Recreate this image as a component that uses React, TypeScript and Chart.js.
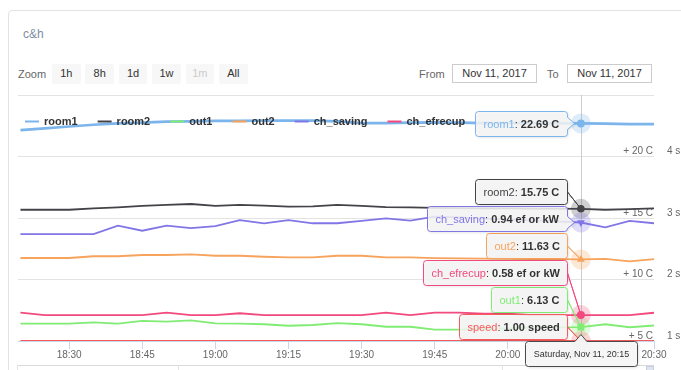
import React, { useEffect, useRef } from 'react';
import { Chart, registerables } from 'chart.js';

Chart.register(...registerables);

const FONT = '"Liberation Sans", Arial, Helvetica, sans-serif';

// ---- data ----
const TIMES = ['18:20','18:25','18:30','18:35','18:40','18:45','18:50','18:55','19:00','19:05','19:10','19:15','19:20','19:25','19:30','19:35','19:40','19:45','19:50','19:55','20:00','20:05','20:10','20:15','20:20','20:25','20:30'];
const ROOM1 = [22.15,22.29,22.44,22.58,22.70,22.76,22.83,22.85,22.89,22.89,22.91,22.91,22.91,22.85,22.72,22.72,22.75,22.78,22.75,22.72,22.72,22.71,22.70,22.69,22.67,22.64,22.64];
const ROOM2 = [15.67,15.67,15.67,15.79,15.87,15.98,16.06,16.14,15.98,16.06,16.00,15.92,15.95,16.06,15.98,15.89,15.87,15.82,15.80,15.79,15.78,15.77,15.76,15.75,15.67,15.72,15.79];
const OUT1 = [6.41,6.41,6.41,6.52,6.41,6.63,6.57,6.68,6.44,6.41,6.36,6.24,6.30,6.46,6.36,6.16,6.16,5.92,5.92,5.98,6.03,6.08,6.11,6.13,6.36,6.12,6.26];
const OUT2 = [11.75,11.75,11.75,11.89,11.89,11.99,11.99,12.05,11.93,11.93,11.85,11.80,11.80,11.93,11.93,11.80,11.80,11.74,11.72,11.70,11.68,11.66,11.65,11.63,11.68,11.48,11.65];
const CH_SAVING = [0.895,0.895,0.895,0.895,0.928,0.908,0.928,0.918,0.926,0.949,0.937,0.949,0.937,0.937,0.946,0.956,0.947,0.963,0.960,0.955,0.952,0.948,0.944,0.940,0.921,0.946,0.937];
const CH_EFRECUP = [0.589,0.580,0.580,0.580,0.580,0.580,0.589,0.580,0.580,0.587,0.580,0.580,0.580,0.580,0.580,0.589,0.580,0.589,0.589,0.585,0.585,0.580,0.580,0.580,0.580,0.580,0.589];
const SPEED = [1,1,1,1,1,1,1,1,1,1,1,1,1,1,1,1,1,1,1,1,1,1,1,1,1,1,1];

const X_MIN = '18:19:30';
const X_MAX = '20:30';
const X_STEP_MIN = 15;
const TEMP_TICKS = { min: 5, max: 25, step: 5 };
const SPEED_TICKS = { min: 1, max: 5, step: 1 };
const EF_RANGE = { min: 0.479, max: 1.436 };

const HOVER_TIME = '20:15';
const HOVER_DATE = 'Saturday, Nov 11';
const ZOOM_BUTTONS = ['1h', '8h', '1d', '1w', '1m', 'All'];
const DISABLED_BUTTON = '1m';
const FROM_DATE = 'Nov 11, 2017';
const TO_DATE = 'Nov 11, 2017';
const TITLE = 'c&h';

const SERIES = [
  { name: 'room1', values: ROOM1, color: '#7cb5ec', axis: 'yTemp', unit: 'C', marker: 'circle', rot: 0, r: 4, width: 2.7, legend: true },
  { name: 'room2', values: ROOM2, color: '#434348', axis: 'yTemp', unit: 'C', marker: 'circle', rot: 0, r: 3.8, width: 1.8, legend: true },
  { name: 'out1', values: OUT1, color: '#80ec74', axis: 'yTemp', unit: 'C', marker: 'rect', rot: 0, r: 5, width: 1.8, legend: true },
  { name: 'out2', values: OUT2, color: '#f7a35c', axis: 'yTemp', unit: 'C', marker: 'triangle', rot: 0, r: 4.5, width: 1.8, legend: true },
  { name: 'ch_saving', values: CH_SAVING, color: '#8176e6', axis: 'yEf', unit: 'ef or kW', marker: 'triangle', rot: 180, r: 4.5, width: 1.8, legend: true },
  { name: 'ch_efrecup', values: CH_EFRECUP, color: '#f24a7e', axis: 'yEf', unit: 'ef or kW', marker: 'circle', rot: 0, r: 4, width: 1.8, legend: true },
  { name: 'speed', values: SPEED, color: '#f45b5b', axis: 'ySpeed', unit: 'speed', marker: 'rectRot', rot: 0, r: 4.5, width: 1.8, legend: false },
];

const toMin = (s: string) => {
  const p = s.split(':').map(Number);
  return p[0] * 60 + p[1] + (p[2] || 0) / 60;
};
const fmtTime = (v: number) => {
  const h = Math.floor(v / 60);
  const m = Math.round(v - h * 60);
  return `${h}:${String(m).padStart(2, '0')}`;
};
const HOVER_INDEX = TIMES.indexOf(HOVER_TIME);

function rgba(hex: string, a: number) {
  const n = parseInt(hex.slice(1), 16);
  return `rgba(${(n >> 16) & 255},${(n >> 8) & 255},${n & 255},${a})`;
}

function calloutPath(ctx: CanvasRenderingContext2D, x: number, y: number, w: number, h: number, r: number, ax: number, ay: number, side: 'right' | 'top') {
  ctx.beginPath();
  ctx.moveTo(x + r, y);
  if (side === 'top') {
    ctx.lineTo(ax - 6, y);
    ctx.lineTo(ax, ay);
    ctx.lineTo(ax + 6, y);
  }
  ctx.lineTo(x + w - r, y);
  ctx.arcTo(x + w, y, x + w, y + r, r);
  if (side === 'right') {
    if (ay > y + 9 && ay < y + h - 9) {
      ctx.lineTo(x + w, ay - 6);
      ctx.lineTo(x + w + 7, ay);
      ctx.lineTo(x + w, ay + 6);
    } else {
      ctx.lineTo(x + w, y + h / 2);
      ctx.lineTo(ax, ay);
      ctx.lineTo(x + w, y + h / 2);
    }
  }
  ctx.lineTo(x + w, y + h - r);
  ctx.arcTo(x + w, y + h, x + w - r, y + h, r);
  ctx.lineTo(x + r, y + h);
  ctx.arcTo(x, y + h, x, y + h - r, r);
  ctx.lineTo(x, y + r);
  ctx.arcTo(x, y, x + r, y, r);
  ctx.closePath();
}

const overlayPlugin = {
  id: 'hcOverlay',
  beforeDatasetsDraw(chart: any) {
    const { ctx, chartArea } = chart;
    const p0 = chart.getDatasetMeta(0).data[HOVER_INDEX];
    ctx.save();
    ctx.strokeStyle = '#cccccc';
    ctx.lineWidth = 1;
    const cx = Math.round(p0.x) + 0.5;
    ctx.beginPath();
    ctx.moveTo(cx, chartArea.top);
    ctx.lineTo(cx, chartArea.bottom);
    ctx.stroke();
    SERIES.forEach((s, i) => {
      const pt = chart.getDatasetMeta(i).data[HOVER_INDEX];
      ctx.fillStyle = rgba(s.color, 0.25);
      ctx.beginPath();
      ctx.arc(pt.x, pt.y, 10, 0, Math.PI * 2);
      ctx.fill();
    });
    ctx.restore();
  },
  afterDatasetsDraw(chart: any) {
    // legend inside plot area
    const { ctx, chartArea } = chart;
    ctx.save();
    ctx.font = `bold 11px ${FONT}`;
    ctx.textBaseline = 'middle';
    ctx.textAlign = 'left';
    let x = chartArea.left + 7;
    const y = chartArea.top + 26.5;
    SERIES.filter((s) => s.legend).forEach((s) => {
      ctx.strokeStyle = s.color;
      ctx.lineWidth = 2;
      ctx.beginPath();
      ctx.moveTo(x, y);
      ctx.lineTo(x + 14, y);
      ctx.stroke();
      ctx.fillStyle = '#333333';
      ctx.fillText(s.name, x + 19, y + 0.5);
      x += 19 + ctx.measureText(s.name).width + 20;
    });
    ctx.restore();
  },
  afterDraw(chart: any) {
    const { ctx, chartArea } = chart;
    ctx.save();
    const boxes = SERIES.map((s, i) => {
      const pt = chart.getDatasetMeta(i).data[HOVER_INDEX];
      const valText = `${s.values[HOVER_INDEX].toFixed(2)} ${s.unit}`;
      ctx.font = `11px ${FONT}`;
      const w1 = ctx.measureText(s.name).width;
      const w2 = ctx.measureText(': ').width;
      ctx.font = `bold 11px ${FONT}`;
      const w3 = ctx.measureText(valText).width;
      return { s, pt, valText, w1, w2, w: Math.round(w1 + w2 + w3 + 16), h: 25, y: 0 };
    });
    const sorted = [...boxes].sort((a, b) => a.pt.y - b.pt.y);
    let limit = chartArea.bottom - 2;
    for (let k = sorted.length - 1; k >= 0; k--) {
      const b = sorted[k];
      const target = b.pt.y - b.h / 2;
      b.y = Math.min(target, limit - b.h);
      limit = b.y - 2;
    }
    boxes.forEach((b) => {
      const right = Math.round(b.pt.x - 14) + 0.5;
      const x = right - b.w;
      const y = Math.round(b.y) + 0.5;
      calloutPath(ctx, x, y, b.w, b.h, 3, b.pt.x, b.pt.y, 'right');
      ctx.shadowColor = 'rgba(0,0,0,0.15)';
      ctx.shadowOffsetX = 1;
      ctx.shadowOffsetY = 1;
      ctx.shadowBlur = 3;
      ctx.fillStyle = 'rgba(247,247,247,0.85)';
      ctx.fill();
      ctx.shadowColor = 'transparent';
      ctx.strokeStyle = b.s.color;
      ctx.lineWidth = 1;
      ctx.stroke();
      ctx.textBaseline = 'middle';
      ctx.textAlign = 'left';
      const ty = y + b.h / 2 + 0.5;
      ctx.font = `11px ${FONT}`;
      ctx.fillStyle = b.s.color;
      ctx.fillText(b.s.name, x + 8, ty);
      ctx.fillStyle = '#333333';
      ctx.fillText(': ', x + 8 + b.w1, ty);
      ctx.font = `bold 11px ${FONT}`;
      ctx.fillText(b.valText, x + 8 + b.w1 + b.w2, ty);
    });
    // header
    const p0 = chart.getDatasetMeta(0).data[HOVER_INDEX];
    const header = `${HOVER_DATE}, ${HOVER_TIME}`;
    ctx.font = `9px ${FONT}`;
    const hw = Math.round(ctx.measureText(header).width + 16);
    const hh = 25;
    const hx = Math.round(p0.x - hw / 2) + 0.5;
    const hy = Math.round(chartArea.bottom) + 0.5;
    calloutPath(ctx, hx, hy, hw, hh, 3, p0.x, hy - 7, 'top');
    ctx.shadowColor = 'rgba(0,0,0,0.15)';
    ctx.shadowOffsetX = 1;
    ctx.shadowOffsetY = 1;
    ctx.shadowBlur = 3;
    ctx.fillStyle = 'rgba(247,247,247,0.95)';
    ctx.fill();
    ctx.shadowColor = 'transparent';
    ctx.strokeStyle = '#4a4a4a';
    ctx.lineWidth = 1;
    ctx.stroke();
    ctx.fillStyle = '#333333';
    ctx.textAlign = 'center';
    ctx.textBaseline = 'middle';
    ctx.fillText(header, hx + hw / 2, hy + hh / 2 + 0.5);
    ctx.restore();
  },
};

export default function App() {
  const ref = useRef<HTMLCanvasElement>(null);

  useEffect(() => {
    if (!ref.current) return;
    const datasets = SERIES.map((s) => ({
      label: s.name,
      data: TIMES.map((t, i) => ({ x: toMin(t), y: s.values[i] })),
      yAxisID: s.axis,
      borderColor: s.color,
      backgroundColor: s.color,
      borderWidth: s.width,
      tension: 0,
      fill: false,
      pointStyle: s.marker,
      pointRotation: s.rot,
      pointRadius: (c: any) => (c.dataIndex === HOVER_INDEX ? s.r : 0),
      pointBorderWidth: 0,
      pointBackgroundColor: s.color,
    }));
    const tickFont = { family: FONT, size: 10 };
    const chart = new Chart(ref.current, {
      type: 'line',
      data: { datasets } as any,
      options: {
        animation: false,
        responsive: false,
        maintainAspectRatio: false,
        events: [],
        layout: { padding: { left: 18, top: 95, right: 0, bottom: 7 } },
        plugins: { legend: { display: false }, tooltip: { enabled: false } },
        scales: {
          x: {
            type: 'linear',
            min: toMin(X_MIN),
            max: toMin(X_MAX),
            ticks: {
              stepSize: X_STEP_MIN,
              includeBounds: false,
              autoSkip: false,
              maxRotation: 0,
              padding: 0,
              color: '#666666',
              font: tickFont,
              callback: (v: any) => fmtTime(Number(v)),
            },
            grid: { drawOnChartArea: false, drawTicks: true, tickLength: 8, color: '#ccd6eb' },
            border: { color: '#ccd6eb' },
            afterFit: (s: any) => { s.height = 22; },
          },
          yTemp: {
            position: 'right',
            weight: 0,
            min: TEMP_TICKS.min,
            max: TEMP_TICKS.max,
            ticks: {
              stepSize: TEMP_TICKS.step,
              mirror: true,
              padding: -1,
              labelOffset: -5,
              color: '#666666',
              font: tickFont,
              callback: (v: any) => (Number(v) >= TEMP_TICKS.max ? '' : `+ ${v} C`),
            },
            grid: { color: '#e3e3e3', drawTicks: false },
            border: { display: false },
            afterFit: (s: any) => { s.width = 0; },
          },
          ySpeed: {
            position: 'right',
            weight: 1,
            min: SPEED_TICKS.min,
            max: SPEED_TICKS.max,
            ticks: {
              stepSize: SPEED_TICKS.step,
              padding: 13,
              labelOffset: -5,
              color: '#666666',
              font: tickFont,
              callback: (v: any) => (Number(v) >= SPEED_TICKS.max ? '' : `${v} s`),
            },
            grid: { display: false, drawTicks: false },
            border: { display: false },
            afterFit: (s: any) => { s.width = 27; },
          },
          yEf: { display: false, min: EF_RANGE.min, max: EF_RANGE.max },
        },
      } as any,
      plugins: [overlayPlugin],
    });
    return () => chart.destroy();
  }, []);

  const btnBase: any = {
    position: 'absolute', top: 64, width: 28.5, height: 19.5, background: '#f7f7f7', borderRadius: 2,
    fontSize: 11, textAlign: 'center', lineHeight: '19.5px',
  };
  const inputBase: any = {
    position: 'absolute', top: 64, width: 85, height: 19, border: '1px solid #cccccc', boxSizing: 'border-box',
    fontSize: 11, color: '#333333', textAlign: 'center', lineHeight: '17px', background: '#fff',
  };

  return (
    <div style={{ position: 'absolute', left: 0, top: 0, width: 681, height: 370, overflow: 'hidden', fontFamily: FONT, background: '#ffffff' }}>
      <div style={{ position: 'absolute', left: 8, top: 10, width: 760, height: 430, border: '1px solid #e3e3e3', borderRadius: 4, boxSizing: 'border-box' }} />
      <div style={{ position: 'absolute', left: 23, top: 27, fontSize: 12, lineHeight: '14px', color: '#7d8ea3' }}>{TITLE}</div>
      <div style={{ position: 'absolute', left: 18, top: 65.5, fontSize: 11, lineHeight: '16px', color: '#666666' }}>Zoom</div>
      {ZOOM_BUTTONS.map((b, i) => (
        <div key={b} style={{ ...btnBase, left: 52 + i * 33.4, color: b === DISABLED_BUTTON ? '#cccccc' : '#333333' }}>{b}</div>
      ))}
      <div style={{ position: 'absolute', left: 419, top: 65.5, fontSize: 11, lineHeight: '16px', color: '#666666' }}>From</div>
      <div style={{ ...inputBase, left: 452 }}>{FROM_DATE}</div>
      <div style={{ position: 'absolute', left: 547, top: 65.5, fontSize: 11, lineHeight: '16px', color: '#666666' }}>To</div>
      <div style={{ ...inputBase, left: 567 }}>{TO_DATE}</div>
      <div style={{ position: 'absolute', left: 17, top: 365, width: 637, height: 1, background: '#d9d9d9' }} />
      <div style={{ position: 'absolute', left: 17, top: 365, width: 1, height: 6, background: '#e3e3e3' }} />
      <div style={{ position: 'absolute', left: 178, top: 365, width: 1, height: 6, background: '#e3e3e3' }} />
      <div style={{ position: 'absolute', left: 502, top: 365, width: 1, height: 6, background: '#e3e3e3' }} />
      <div style={{ position: 'absolute', left: 646, top: 366, width: 8, height: 6, background: '#dfe5f0', border: '1px solid #c8cfdc', boxSizing: 'border-box' }} />
      <canvas ref={ref} width={681} height={370} style={{ position: 'absolute', left: 0, top: 0 }} />
    </div>
  );
}
